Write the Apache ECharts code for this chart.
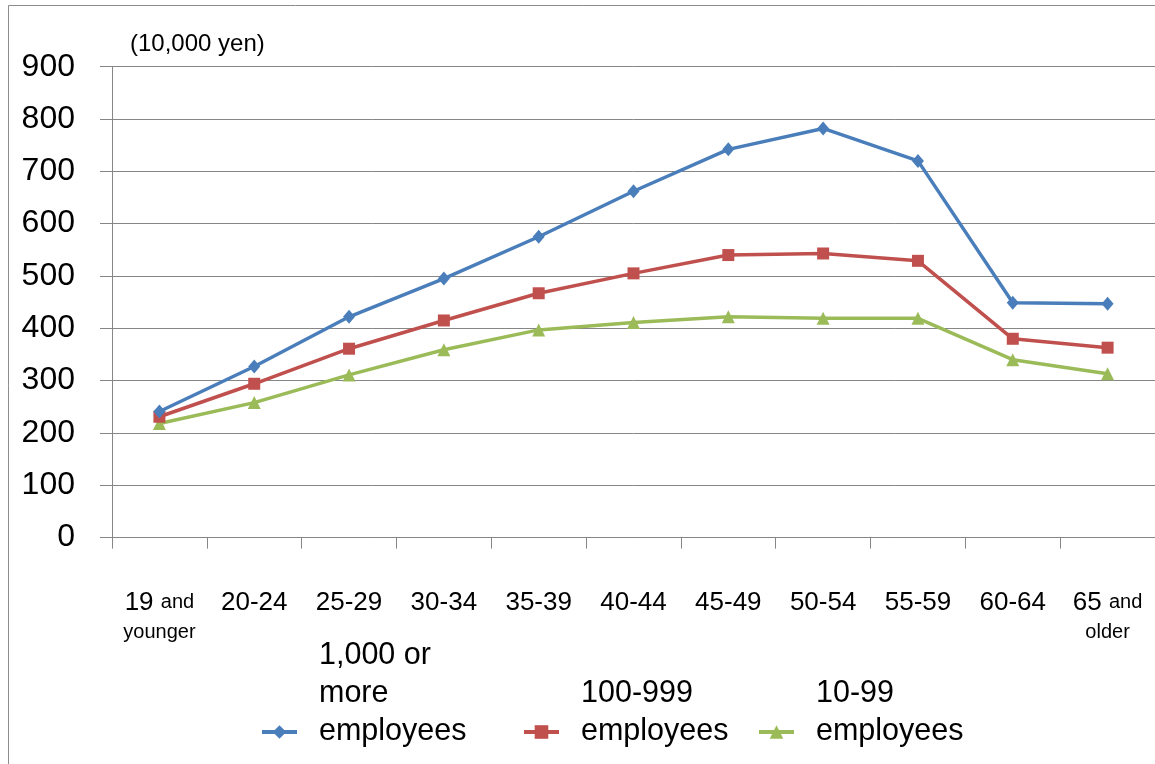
<!DOCTYPE html>
<html>
<head>
<meta charset="utf-8">
<script src="https://cdn.jsdelivr.net/npm/echarts@6/dist/echarts.min.js"></script>
<style>
  html, body { margin: 0; padding: 0; background: #fff; }
  #chart { width: 1155px; height: 764px; }
</style>
</head>
<body>
<div id="chart"></div>
<script>
// Annual income by age group and company size (unit: 10,000 yen)
const ageGroups = ['19 and younger', '20-24', '25-29', '30-34', '35-39', '40-44',
                   '45-49', '50-54', '55-59', '60-64', '65 and older'];
const large = [241, 327, 422, 495, 575, 662, 742, 782, 720, 449, 447];
const medium = [231, 294, 361, 415, 467, 505, 540, 543, 529, 380, 363];
const small = [218, 258, 311, 359, 397, 411, 422, 419, 419, 340, 313];
const seriesNames = ['1,000 or more employees', '100-999 employees', '10-99 employees'];
const legendLines = [
  ['1,000 or', 'more', 'employees'],
  ['', '100-999', 'employees'],
  ['', '10-99', 'employees']
];
const yTicks = [0, 100, 200, 300, 400, 500, 600, 700, 800, 900];
const unitLabel = '(10,000 yen)';

const FONT = 'Liberation Sans, Arial, sans-serif';
const GRAY = '#868686';
const colors = ['#4A7EBB', '#C0504D', '#9BBB59'];
const symbols = ['diamond', 'rect', 'triangle'];
const symbolSizes = [[12, 14], 12, 13];
const values = [large, medium, small];

// Age labels: the leading number is larger than the trailing words
function ageLabel(v) {
  const m = v.match(/^(\d+) (and) (\w+)$/);
  if (m) return m[1] + ' {s|' + m[2] + '}\n{s|' + m[3] + '}';
  return v;
}

const chart = echarts.init(document.getElementById('chart'), null, { renderer: 'canvas' });

const legendLefts = [260, 522, 757];

chart.setOption({
  animation: false,
  backgroundColor: '#ffffff',
  title: {
    text: unitLabel,
    left: 125,
    top: 27,
    textStyle: { fontFamily: FONT, fontSize: 24, fontWeight: 'normal', color: '#000' }
  },
  graphic: [{
    type: 'rect',
    shape: { x: 8.5, y: 5.5, width: 1300, height: 900 },
    style: { fill: null, stroke: '#8c8c8c', lineWidth: 1 },
    silent: true,
    z: -10
  }],
  legend: seriesNames.map((name, i) => ({
    data: [name],
    left: legendLefts[i],
    top: 637,
    padding: 0,
    itemWidth: 35,
    itemHeight: 17,
    lineStyle: { width: 4 },
    formatter: () => legendLines[i].join('\n') + '\n\n',
    textStyle: {
      fontFamily: FONT,
      fontSize: 30.5,
      lineHeight: 38,
      color: '#000',
      padding: [0, 0, 0, 17]
    }
  })),
  grid: { left: 112, right: -2, top: 66.7, bottom: 764 - 537.6, containLabel: false },
  xAxis: {
    type: 'category',
    data: ageGroups,
    boundaryGap: true,
    axisLine: { show: true, lineStyle: { color: GRAY, width: 1 } },
    axisTick: { show: true, length: 11, lineStyle: { color: GRAY } },
    axisLabel: {
      interval: 0,
      margin: 50,
      fontFamily: FONT,
      fontSize: 26,
      lineHeight: 30,
      color: '#000',
      formatter: ageLabel,
      rich: {
        s: { fontFamily: FONT, fontSize: 20, lineHeight: 30, color: '#000' }
      }
    }
  },
  yAxis: {
    type: 'value',
    min: yTicks[0],
    max: yTicks[yTicks.length - 1],
    interval: 100,
    axisLine: { show: true, lineStyle: { color: GRAY, width: 1 } },
    axisTick: { show: true, length: 12, lineStyle: { color: GRAY } },
    splitLine: { show: true, lineStyle: { color: GRAY, width: 1 } },
    axisLabel: {
      margin: 37,
      fontFamily: FONT,
      fontSize: 32,
      color: '#000'
    }
  },
  series: seriesNames.map((name, i) => ({
    name: name,
    type: 'line',
    data: values[i],
    symbol: symbols[i],
    symbolSize: symbolSizes[i],
    showAllSymbol: true,
    color: colors[i],
    lineStyle: { width: 3.5, color: colors[i] },
    itemStyle: { color: colors[i] },
    z: 3 - i
  }))
});
</script>
</body>
</html>
